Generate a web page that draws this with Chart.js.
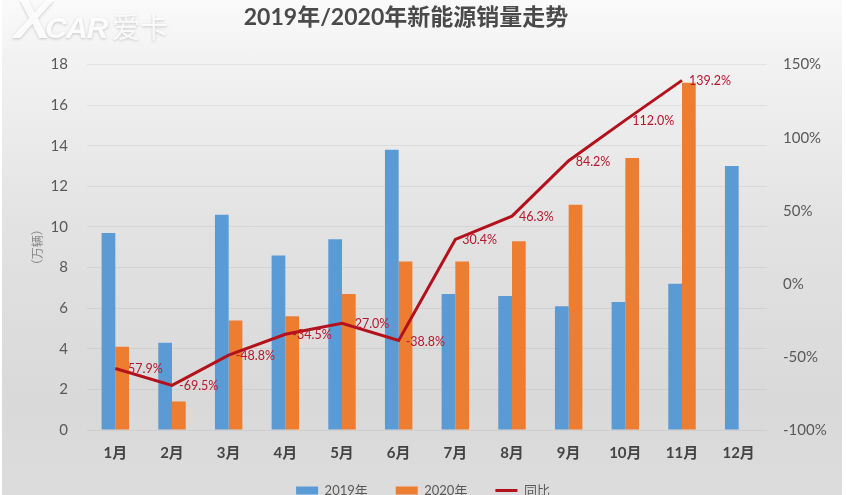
<!DOCTYPE html>
<html><head><meta charset="utf-8">
<script src="https://cdn.jsdelivr.net/npm/chart.js@4"></script>
<style>
html,body{margin:0;padding:0;width:846px;height:495px;overflow:hidden;background:#fff}
#wrap{position:absolute;left:2px;top:0;width:840px;height:495px;background:linear-gradient(#fafafa 0,#f2f2f2 60px,#e2e2e2 230px,#d9d9d9 400px,#dcdcdc 495px)}
canvas{position:absolute;left:0;top:0}
#mark{position:absolute;left:14px;top:-14px;font:italic 900 56px "Liberation Sans",sans-serif;color:rgba(255,255,255,.9);text-shadow:0 1px 3px rgba(0,0,0,.2);white-space:nowrap}
#mark b{font-size:30px;letter-spacing:-1px;margin-left:-6px}
#mark span{font:400 28px "Noto Sans CJK SC";margin-left:5px;color:rgba(255,255,255,.85)}
</style></head><body>
<div id="wrap"></div>
<canvas id="c" width="846" height="515"></canvas>
<div id="mark">X<b>CAR</b><span>爱卡</span></div>
<script>
const categories=['1月','2月','3月','4月','5月','6月','7月','8月','9月','10月','11月','12月'];
const sales2019=[9.7,4.3,10.6,8.6,9.4,13.8,6.7,6.6,6.1,6.3,7.2,13.0];
const sales2020=[4.1,1.4,5.4,5.6,6.7,8.3,8.3,9.3,11.1,13.4,17.1,null];
const yoy=[-57.9,-69.5,-48.8,-34.5,-27.0,-38.8,30.4,46.3,84.2,112.0,139.2,null];
const yoyLabels=['57.9%','-69.5%','-48.8%','-34.5%','27.0%','-38.8%','30.4%','46.3%','84.2%','112.0%','139.2%',''];
const cjk='"Lato","Noto Sans CJK SC",sans-serif';

const layoutFix={id:'layoutFix',afterLayout(ch){ch.titleBlock.right=812;ch.legend.top-=8;}};
const lineLabels={id:'lineLabels',afterDatasetsDraw(ch){
  const meta=ch.getDatasetMeta(0),ctx=ch.ctx;
  ctx.save();ctx.font='12.5px '+cjk;ctx.fillStyle='#b5172f';ctx.textAlign='left';ctx.textBaseline='middle';
  const dash=ctx.measureText('-').width;
  meta.data.forEach((p,i)=>{
    if(yoy[i]==null)return;
    const t=yoyLabels[i];
    const shift=(yoy[i]<0&&t[0]!=='-')?dash+1:0;
    ctx.fillText(t,p.x+7+shift,p.y+1);
  });
  ctx.restore();
}};

new Chart(document.getElementById('c'),{
  data:{labels:categories,datasets:[
    {type:'line',label:'同比',data:yoy,yAxisID:'y1',order:0,borderColor:'#b3121d',backgroundColor:'#b3121d',borderWidth:3,pointRadius:0,tension:0,pointStyle:'line',spanGaps:false},
    {type:'bar',label:'2019年',data:sales2019,yAxisID:'y',order:1,backgroundColor:'#5b9bd5',pointStyle:'rect',barPercentage:1,categoryPercentage:.484},
    {type:'bar',label:'2020年',data:sales2020,yAxisID:'y',order:1,backgroundColor:'#ed7d31',pointStyle:'rect',barPercentage:1,categoryPercentage:.484}
  ]},
  options:{responsive:false,animation:false,
    layout:{padding:0},
    plugins:{
      title:{display:true,text:'2019年/2020年新能源销量走势',color:'#4a4a4a',font:{family:cjk,size:23,weight:'bold'},padding:{top:4,bottom:33}},
      legend:{position:'bottom',labels:{usePointStyle:true,pointStyleWidth:22,boxHeight:8,color:'#595959',font:{family:cjk,size:13},padding:28,
        sort:(a,b)=>[1,2,0].indexOf(a.datasetIndex)-[1,2,0].indexOf(b.datasetIndex)}},
      tooltip:{enabled:false}
    },
    scales:{
      x:{grid:{display:false},border:{display:false},ticks:{color:'#444',font:{family:cjk,size:15,weight:'bold'},padding:6,maxRotation:0},
        afterFit(s){s.height=34;}},
      y:{position:'left',min:0,max:18,grid:{color:'rgba(0,0,0,.055)',lineWidth:1,drawTicks:false},border:{display:false},
        ticks:{stepSize:2,color:'#595959',font:{family:cjk,size:15},padding:19},
        title:{display:true,text:'（万辆）',color:'#8a8a8a',font:{family:cjk,size:12},padding:{top:31,bottom:0}},
        afterFit(s){s.width=87;}},
      y1:{position:'right',min:-100,max:150,grid:{display:false},border:{display:false},
        ticks:{stepSize:50,color:'#595959',font:{family:cjk,size:15},padding:8,callback:v=>v+'%'},
        afterFit(s){s.width=79;}}
    }
  },
  plugins:[layoutFix,lineLabels]
});
</script>
</body></html>
